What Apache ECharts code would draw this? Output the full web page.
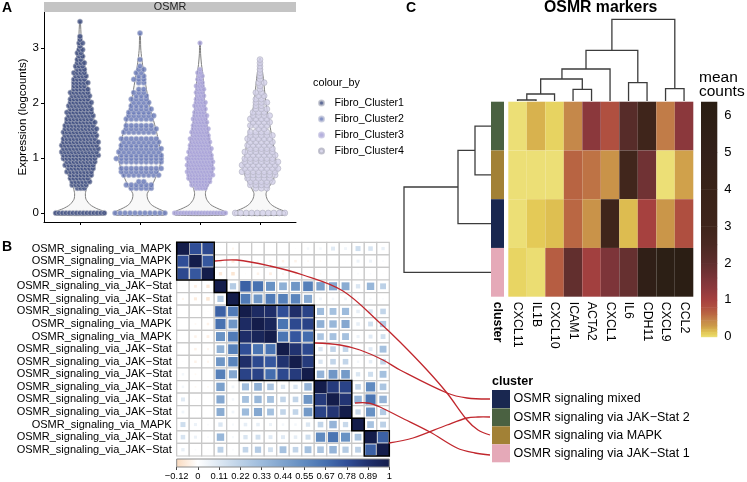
<!DOCTYPE html>
<html><head><meta charset="utf-8">
<script src="https://cdn.jsdelivr.net/npm/echarts@6/dist/echarts.min.js"></script>
<style>html,body{margin:0;padding:0;background:#fff}#c{width:747px;height:482px}</style></head>
<body><div id="c"></div>
<script>
// ---------- Panel A data ----------
const fibroNames=['Fibro_Cluster1','Fibro_Cluster2','Fibro_Cluster3','Fibro_Cluster4'];
const exprTicks=[0,1,2,3];
// violin outlines: [expression, half width]
const violin1=[[-0.04,0.40],[0,0.43],[0.03,0.40],[0.08,0.28],[0.15,0.17],[0.25,0.10],[0.35,0.09],[0.45,0.11],[0.6,0.17],[0.8,0.23],[1.0,0.28],[1.2,0.30],[1.5,0.27],[2,0.175],[2.5,0.10],[3,0.04],[3.2,0.02],[3.48,0.006]];
const violin2=[[-0.04,0.40],[0,0.42],[0.03,0.40],[0.08,0.30],[0.15,0.19],[0.25,0.13],[0.35,0.12],[0.5,0.20],[0.75,0.30],[1.0,0.36],[1.2,0.33],[1.5,0.27],[2,0.15],[2.5,0.07],[2.8,0.03],[3.0,0.012],[3.26,0.006]];
const violin3=[[-0.04,0.41],[0,0.43],[0.03,0.41],[0.08,0.30],[0.15,0.18],[0.25,0.11],[0.35,0.09],[0.45,0.11],[0.6,0.18],[0.8,0.21],[1.0,0.20],[1.5,0.13],[2,0.08],[2.5,0.05],[2.7,0.025],[2.9,0.01],[3.11,0.006]];
const violin4=[[-0.04,0.41],[0,0.43],[0.03,0.41],[0.08,0.30],[0.15,0.19],[0.25,0.12],[0.35,0.10],[0.45,0.14],[0.6,0.22],[0.8,0.28],[1.0,0.26],[1.5,0.18],[2,0.10],[2.5,0.05],[2.7,0.02],[2.81,0.006]];
// expression levels and the number of cells found at each level, per cluster
const swarmLevels=[0,0.45,0.51,0.57,0.63,0.69,0.75,0.81,0.87,0.93,0.99,1.05,1.11,1.17,1.23,1.29,1.35,1.41,1.47,1.53,1.59,1.65,1.71,1.77,1.83,1.89,1.95,2.01,2.07,2.13,2.19,2.25,2.31,2.37,2.43,2.49,2.55,2.61,2.67,2.73,2.79,2.85,2.91,2.97,3.03,3.09,3.15,3.21,3.27,3.33,3.39,3.48];
const swarm1=[15,3,5,6,6,7,8,8,9,9,10,11,11,11,11,11,10,10,10,10,9,9,8,8,8,7,7,7,6,6,6,5,4,5,4,4,4,3,3,3,2,2,2,2,1,2,1,1,0,0,0,1];
const swarm2=[11,5,6,2,0,8,8,9,0,9,10,9,9,9,8,8,8,0,7,7,6,0,6,6,5,5,4,4,4,3,3,2,0,2,3,2,2,2,1,0,1,0,0,0,0,0,0,0,1,0,0,0];
const swarm3=[18,4,6,7,8,9,9,9,9,9,9,8,8,8,7,7,7,6,6,6,5,5,5,5,4,4,4,4,3,3,3,3,3,2,2,2,2,1,0,0,0,0,0,0,0,1,0,0,0,0,0,0];
const swarm4=[10,3,4,5,5,6,7,7,7,7,6,6,6,5,5,5,5,5,4,2,4,4,4,4,3,3,2,3,2,2,2,1,1,2,1,1,1,1,1,1,1,0,0,0,0,0,0,0,0,0,0,0];

// ---------- Panel B data ----------
const pathwayLabels=['OSMR_signaling_via_MAPK','OSMR_signaling_via_MAPK','OSMR_signaling_via_MAPK','OSMR_signaling_via_JAK\u2212Stat','OSMR_signaling_via_JAK\u2212Stat','OSMR_signaling_via_JAK\u2212Stat','OSMR_signaling_via_MAPK','OSMR_signaling_via_MAPK','OSMR_signaling_via_JAK\u2212Stat','OSMR_signaling_via_JAK\u2212Stat','OSMR_signaling_via_JAK\u2212Stat','OSMR_signaling_via_JAK\u2212Stat','OSMR_signaling_via_JAK\u2212Stat','OSMR_signaling_via_JAK\u2212Stat','OSMR_signaling_via_MAPK','OSMR_signaling_via_JAK\u2212Stat','OSMR_signaling_via_JAK\u2212Stat'];
// upper triangle of the correlation matrix, row by row
const corrUpper=[
[1,.78,.80,.01,-.03,0,0,0,0,.01,.04,.04,.10,.05,.16,.13,.07],
[1,.75,-.05,-.06,0,-.02,-.04,-.04,-.04,-.02,-.02,.01,.01,.06,.06,.02],
[1,-.07,-.08,-.01,-.04,-.05,-.03,-.03,0,-.02,0,0,.02,.02,.01],
[1,.25,.72,.66,.52,.38,.5,.6,.45,.42,.4,.12,.35,.22],
[1,.62,.5,.62,.6,.58,.42,.05,.04,.05,.03,.03,.02],
[1,.92,.9,.78,.9,.82,.32,.3,.33,.08,.12,.2],
[1,.95,.65,.8,.82,.38,.35,.42,.08,.15,.25],
[1,.65,.75,.68,.28,.3,.3,.06,.1,.15],
[1,.88,.8,.12,.2,.2,.04,.1,.3],
[1,.85,.12,.2,.2,.04,.08,.2],
[1,.36,.5,.48,.12,.16,.3],
[1,.85,.82,.2,.55,.28],
[1,.87,.36,.65,.36],
[1,.18,.52,.25],
[1,.29,.22],
[1,.72],
[1]];
const corrBlocks=[3,1,1,6,3,1,2];
const corrTicks=[-0.12,0,0.11,0.22,0.33,0.44,0.55,0.67,0.78,0.89,1];
const corrColors=['#f9d9bd','#ffffff','#dde8f3','#bcd1e7','#9dbbdc','#7fa3cd','#618bc0','#4670b0','#304e97','#20306c','#141d4b'];

// ---------- Panel C data ----------
const geneNames=['CXCL11','IL1B','CXCL10','ICAM1','ACTA2','CXCL1','IL6','CDH11','CXCL9','CCL2'];
const meanRow1=[0,0.2,0.06,0.43,1.35,0.8,2.2,3,0.5,1.35];
const meanRow2=[0,0,0,0.65,0.55,0.35,2.9,1.75,0,0.27];
const meanRow3=[0,0.1,0.15,0.62,0.35,3,0.16,1,0.33,0.82];
const meanRow4=[0.05,0.01,0.7,1.95,1.05,1.55,1.9,5.5,6,6.2];
const meanTicks=[0,1,2,3,4,5,6];
const meanStops=[0,0.05,0.12,0.2,0.3,0.45,0.6,0.8,1,1.3,1.6,2,2.5,3,4,5,6.38];
const meanColors=['#ecdf76','#e8d563','#e2c652','#d8b24e','#cc9a49','#c4854a','#bb6a43','#b05040','#a6413f','#8e393d','#7a3438','#5f2e2d','#4a2922','#3f251b','#392318','#33201a','#2a1e13'];
const clusterNames=['OSMR signaling mixed','OSMR signaling via JAK\u2212Stat 2','OSMR signaling via MAPK','OSMR signaling via JAK\u2212Stat 1'];
const clusterColors=['#192750','#4a6141','#a28136','#e5a9b8'];
const clusterOfRow=[1,2,0,3];
// dendrograms: [left pos, left height, right pos, right height, merge height]
const geneDendro=[[1,0,2,0,3],[1.5,3,3,0,21],[4,0,5,0,35],[2.25,21,4.5,35,66],[3.4,66,6,0,96],[7,0,8,0,55],[4.7,96,7.5,55,152],[9,0,10,0,37],[6.1,152,9.5,37,245]];
const rowDendro=[[1,0,2,0,16],[1.5,16,3,0,33],[2.25,33,4,0,87]];
// connectors from the correlation blocks to the cluster legend
const link1=[[215,261],[237,260],[270,266],[303,275],[343,291],[380,323],[400,342],[427,370],[447,393],[467,420],[478,430],[490,435]];
const link2=[[315,343],[340,345],[360,350],[383,360],[400,370],[447,393],[467,398],[490,399]];
const link3=[[355,403],[368,403],[380,407],[400,417],[430,432],[457,448],[475,453],[490,455]];
const link4=[[389,443],[413,438],[447,425],[467,418],[478,417],[490,417]];

// ---------- helpers ----------
function hex(c){return [1,3,5].map(i=>parseInt(c.substr(i,2),16));}
function ramp(xs,cs,v){
  if(v<=xs[0])return cs[0]; if(v>=xs[xs.length-1])return cs[cs.length-1];
  let i=0; while(v>xs[i+1])i++;
  const t=(v-xs[i])/(xs[i+1]-xs[i]),a=hex(cs[i]),b=hex(cs[i+1]);
  return 'rgb('+a.map((q,k)=>Math.round(q+(b[k]-q)*t)).join(',')+')';
}
const font='"Liberation Sans",Arial,sans-serif';
const chart=echarts.init(document.getElementById('c'),null,{renderer:'canvas'});

// ---------- Panel A marks ----------
const fills=['#36467c','#6475b6','#a29cd6','#d2d0e8'];
const gaps=[0.058,0.083,0.05,0.092];
const dot=[5.2,5.2,4.6,5.8];
const rims=['rgba(185,188,200,0.95)','rgba(190,195,215,0.95)','rgba(195,192,225,0.95)','rgba(175,175,190,0.95)'];
function swarmData(counts,center,gap){
  const out=[];
  counts.forEach((n,r)=>{
    const shift=(n>1&&r>0)?(r%2?gap/4:-gap/4):0;
    for(let j=0;j<n;j++) out.push([center+(j-(n-1)/2)*gap+shift,swarmLevels[r]]);
  });
  return out;
}
const violins=[violin1,violin2,violin3,violin4];
const swarms=[swarm1,swarm2,swarm3,swarm4];
const series=[];
violins.forEach((v,k)=>{
  series.push({type:'custom',xAxisIndex:0,yAxisIndex:0,silent:true,clip:false,z:2,data:[[k+1,0]],
    renderItem:(p,api)=>{
      const pts=[];
      v.forEach(q=>pts.push(api.coord([k+1-q[1],q[0]])));
      v.slice().reverse().forEach(q=>pts.push(api.coord([k+1+q[1],q[0]])));
      return {type:'polygon',shape:{points:pts,smooth:0.25},style:{fill:'#f8f8f8',stroke:'#808080',lineWidth:1}};
    }});
});
swarms.forEach((s,k)=>{
  series.push({name:fibroNames[k],type:'scatter',xAxisIndex:0,yAxisIndex:0,z:3,symbolSize:dot[k],silent:true,
    itemStyle:{color:fills[k],borderColor:rims[k],borderWidth:0.8},
    data:swarmData(s,k+1,gaps[k])});
});

// ---------- Panel B marks ----------
const corrCells=[];
corrUpper.forEach((row,i)=>row.forEach((r,d)=>{
  const j=i+d; corrCells.push([i,j,r]); if(j!==i)corrCells.push([j,i,r]);
}));
series.push({type:'custom',xAxisIndex:1,yAxisIndex:1,silent:true,z:2,data:corrCells,encode:{x:1,y:0},
  renderItem:(p,api)=>{
    const c=api.coord([api.value(1),api.value(0)]),s=api.size([1,1]);
    const r=api.value(2),q=Math.sqrt(Math.abs(r))*s[0];
    const col=ramp(corrTicks,corrColors,r);
    return {type:'group',children:[
      {type:'rect',shape:{x:c[0]-s[0]/2,y:c[1]-s[1]/2,width:s[0],height:s[1]},style:{fill:'#fff',stroke:'#c8c8c8',lineWidth:1.2},z2:1},
      {type:'rect',shape:{x:c[0]-q/2,y:c[1]-q/2,width:q,height:q},style:{fill:col},z2:2}
    ]};
  }});
const blockData=[];corrBlocks.reduce((a,n)=>{blockData.push([a,n]);return a+n;},0);
series.push({type:'custom',xAxisIndex:1,yAxisIndex:1,silent:true,z:4,data:blockData,encode:{x:0,y:0},
  renderItem:(p,api)=>{
    const a=api.value(0),n=api.value(1),c=api.coord([a,a]),s=api.size([1,1]);
    return {type:'rect',shape:{x:c[0]-s[0]/2,y:c[1]-s[1]/2,width:s[0]*n,height:s[1]*n},style:{fill:'none',stroke:'#000',lineWidth:1.5}};
  }});
// colour bar of panel B
series.push({type:'custom',xAxisIndex:2,yAxisIndex:2,silent:true,data:[[0,10]],
  renderItem:(p,api)=>{
    const a=api.coord([0,0]),b=api.coord([10,1]);
    return {type:'rect',shape:{x:a[0],y:b[1],width:b[0]-a[0],height:a[1]-b[1]},
      style:{stroke:'#8a8a8a',lineWidth:1,fill:new echarts.graphic.LinearGradient(0,0,1,0,corrColors.map((c,i)=>({offset:i/10,color:c})))}};
  }});

// ---------- Panel C marks ----------
const heatRows=[meanRow1,meanRow2,meanRow3,meanRow4];
const heatData=[];
heatRows.forEach((row,y)=>row.forEach((v,x)=>heatData.push([x,y,v])));
series.push({type:'custom',xAxisIndex:3,yAxisIndex:3,silent:true,data:heatData,encode:{x:0,y:1},
  renderItem:(p,api)=>{
    const c=api.coord([api.value(0),api.value(1)]),s=api.size([1,1]);
    return {type:'rect',shape:{x:c[0]-s[0]/2,y:c[1]-s[1]/2,width:s[0],height:s[1]},style:{fill:ramp(meanStops,meanColors,api.value(2))}};
  }});
series.push({type:'custom',xAxisIndex:4,yAxisIndex:4,silent:true,data:clusterOfRow.map((c,i)=>[0,i,c]),encode:{x:0,y:1},
  renderItem:(p,api)=>{
    const c=api.coord([0,api.value(1)]),s=api.size([1,1]);
    return {type:'rect',shape:{x:c[0]-s[0]/2,y:c[1]-s[1]/2,width:s[0],height:s[1]},style:{fill:clusterColors[api.value(2)]}};
  }});
// colour bar of panel C
series.push({type:'custom',xAxisIndex:5,yAxisIndex:5,silent:true,data:meanStops.slice(0,-1).map((v,i)=>[v,meanStops[i+1],i]),
  renderItem:(p,api)=>{
    const i=api.value(2),a=api.coord([0,api.value(0)]),b=api.coord([1,api.value(1)]);
    return {type:'rect',shape:{x:a[0],y:b[1],width:b[0]-a[0],height:a[1]-b[1]+0.5},
      style:{fill:new echarts.graphic.LinearGradient(0,1,0,0,[{offset:0,color:meanColors[i]},{offset:1,color:meanColors[i+1]}])}};
  }});
function dendroItem(project){
  return (p,api)=>{
    const l=api.value(0),hl=api.value(1),r=api.value(2),hr=api.value(3),h=api.value(4);
    return {type:'polyline',shape:{points:[project(api,l,hl),project(api,l,h),project(api,r,h),project(api,r,hr)]},
      style:{fill:'none',stroke:'#3c3c3c',lineWidth:1.3}};
  };
}
series.push({type:'custom',xAxisIndex:6,yAxisIndex:6,silent:true,clip:false,data:geneDendro,encode:{x:0,y:4},
  renderItem:dendroItem((api,pos,h)=>api.coord([pos,h]))});
series.push({type:'custom',xAxisIndex:7,yAxisIndex:7,silent:true,clip:false,data:rowDendro,encode:{x:4,y:0},
  renderItem:dendroItem((api,pos,h)=>api.coord([h,pos]))});

// ---------- annotations ----------
const graphic=[];
function txt(t,x,y,size,opts){
  graphic.push({type:'text',z:20,silent:true,style:Object.assign({text:t,x:x,y:y,fill:'#000',fontFamily:font,fontSize:size,textVerticalAlign:'middle',textAlign:'left'},opts||{})});
}
graphic.push({type:'rect',z:1,silent:true,shape:{x:44,y:2,width:252,height:10},style:{fill:'#c4c4c4'}});
txt('OSMR',170,7.5,10.8,{textAlign:'center',fill:'#222'});
txt('A',2,8,14,{fontWeight:'bold'});
txt('B',2,247,14,{fontWeight:'bold'});
txt('C',406,8,14,{fontWeight:'bold'});
txt('colour_by',313,83,10.8);
txt('OSMR markers',600.7,8,15.8,{fontWeight:'bold',textAlign:'center'});
txt('mean',699,78,15.5);
txt('counts',699,92,15.5);
txt('cluster',492,382,12.5,{fontWeight:'bold'});
const swatchTop=[390,408.3,426.3,444.3],swatchH=18;
clusterNames.forEach((n,i)=>{
  graphic.push({type:'rect',z:15,silent:true,shape:{x:492,y:swatchTop[i],width:18,height:swatchH},style:{fill:clusterColors[i]}});
  txt(n,513.5,swatchTop[i]+swatchH/2,12.5);
});
[link1,link2,link3,link4].forEach(l=>{
  graphic.push({type:'polyline',z:12,silent:true,shape:{points:l,smooth:0.35},style:{fill:'none',stroke:'#c1272d',lineWidth:1.3}});
});

const hide={show:false};
chart.setOption({
  animation:false,
  backgroundColor:'#fff',
  textStyle:{fontFamily:font},
  legend:{data:fibroNames,orient:'vertical',left:313,top:92.5,itemWidth:10,itemHeight:5,itemGap:5,icon:'circle',selectedMode:false,
    textStyle:{fontFamily:font,fontSize:10.6,color:'#000',padding:[0,0,0,3]}},
  grid:[
    {left:44,top:12,width:252,height:210},
    {left:176.7,top:242.3,width:212.6,height:213.7},
    {left:176.7,top:459,width:212.6,height:8},
    {left:508.3,top:101.7,width:185,height:195},
    {left:491,top:101.7,width:13,height:195},
    {left:701,top:101.7,width:16.3,height:235},
    {left:508.3,top:19.3,width:185,height:81.7},
    {left:404,top:101.7,width:87,height:195}
  ],
  xAxis:[
    {gridIndex:0,type:'value',min:0.4,max:4.6,splitLine:hide,axisLine:{show:true,onZero:false,lineStyle:{color:'#000',width:1}},
      axisTick:{show:true,length:3,customValues:[1,2,3,4],lineStyle:{color:'#000'}},axisLabel:hide},
    {gridIndex:1,type:'category',data:pathwayLabels,axisLine:hide,axisTick:hide,axisLabel:hide},
    {gridIndex:2,type:'value',min:0,max:10,splitLine:hide,axisLine:hide,
      axisTick:{show:true,length:3,customValues:corrTicks.map((v,i)=>i),lineStyle:{color:'#444'}},
      axisLabel:{show:true,customValues:corrTicks.map((v,i)=>i),fontSize:9.4,color:'#000',margin:5,
        formatter:v=>String(corrTicks[v]).replace('-','\u2212'),showMinLabel:true,showMaxLabel:true}},
    {gridIndex:3,type:'category',data:geneNames,axisLine:hide,axisTick:hide,
      axisLabel:{show:true,interval:0,rotate:-90,fontSize:12.4,color:'#000',margin:5}},
    {gridIndex:4,type:'category',data:['cluster'],axisLine:hide,axisTick:hide,
      axisLabel:{show:true,interval:0,rotate:-90,fontSize:12.4,color:'#000',fontWeight:'bold',margin:5}},
    {gridIndex:5,type:'value',min:0,max:1,show:false},
    {gridIndex:6,type:'value',min:0.5,max:10.5,show:false},
    {gridIndex:7,type:'value',min:0,max:87,inverse:true,show:false}
  ],
  yAxis:[
    {gridIndex:0,type:'value',min:-0.1636,max:3.654,name:'Expression (logcounts)',nameLocation:'middle',nameGap:12,
      nameTextStyle:{fontSize:11.5,color:'#000'},splitLine:hide,
      axisLine:{show:true,onZero:false,lineStyle:{color:'#000',width:1}},
      axisTick:{show:true,length:3,customValues:exprTicks,lineStyle:{color:'#000'}},
      axisLabel:{show:true,customValues:exprTicks,fontSize:11.5,color:'#000',margin:5}},
    {gridIndex:1,type:'category',inverse:true,data:pathwayLabels,axisLine:hide,axisTick:hide,
      axisLabel:{show:true,interval:0,fontSize:11,color:'#000',margin:5}},
    {gridIndex:2,type:'value',min:0,max:1,show:false},
    {gridIndex:3,type:'category',inverse:true,data:clusterOfRow.map((c,i)=>'r'+i),show:false},
    {gridIndex:4,type:'category',inverse:true,data:clusterOfRow.map((c,i)=>'r'+i),show:false},
    {gridIndex:5,type:'value',min:0,max:6.38,position:'right',splitLine:hide,axisLine:hide,axisTick:hide,
      axisLabel:{show:true,customValues:meanTicks,fontSize:13,color:'#000',margin:7}},
    {gridIndex:6,type:'value',min:0,max:245,show:false},
    {gridIndex:7,type:'value',min:0.5,max:4.5,inverse:true,show:false}
  ],
  series:series,
  graphic:graphic
});
</script></body></html>
